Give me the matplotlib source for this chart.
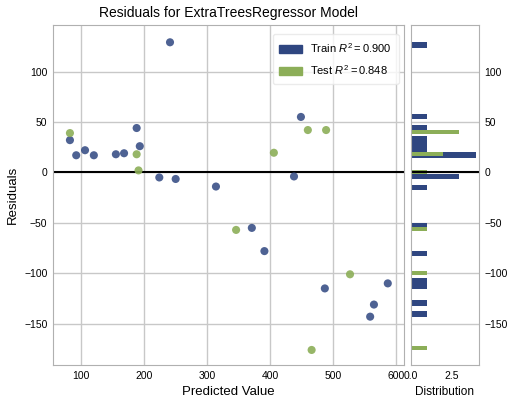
import matplotlib
matplotlib.use("Agg")
import matplotlib.pyplot as plt
import matplotlib.patches as mpatches
import numpy as np

# ---- Data ------------------------------------------------------------
train_pred = [241, 82, 92, 106, 120, 155, 168, 188, 193, 224, 250, 314,
              449, 438, 371, 391, 487, 587, 565, 559]
train_resid = [129, 32, 17, 22, 17, 18, 19, 44, 26, -5, -6.5, -14,
               55, -4, -55, -78, -115, -110, -131, -143]
test_pred = [82, 188, 191, 406, 460, 489, 346, 527, 466]
test_resid = [39, 18, 2, 19.5, 42, 42, -57, -101, -176]

train_r2 = 0.900
test_r2 = 0.848

# ---- Style -----------------------------------------------------------
TRAIN_C = "#2f4680"
TEST_C = "#8cae58"
GRID = "#c8c8c8"
SPINE = "#b0b0b0"

plt.rcParams.update({
    "font.family": ["Liberation Sans", "DejaVu Sans"],
    "font.size": 8,
    "xtick.labelsize": 7.5,
    "ytick.labelsize": 7.5,
    "axes.edgecolor": SPINE,
    "grid.color": GRID,
    "grid.linewidth": 1.0,
    "mathtext.fontset": "custom",
    "mathtext.it": "Liberation Sans:italic",
    "mathtext.rm": "Liberation Sans",
})

fig = plt.figure(figsize=(5.09, 3.99), dpi=100)
ax = fig.add_axes([0.104, 0.085, 0.69, 0.852])
hax = fig.add_axes([0.807, 0.085, 0.134, 0.852], sharey=ax)

ax.scatter(train_pred, train_resid, c=TRAIN_C, alpha=0.85, s=34, edgecolors="none", zorder=3)
ax.scatter(test_pred, test_resid, c=TEST_C, alpha=0.9, s=34, edgecolors="none", zorder=3)
ax.axhline(0, color="black", linewidth=1.5, zorder=2)
ax.set_xlim(55, 613)
ax.set_ylim(-191, 146)
ax.set_xticks([100, 200, 300, 400, 500, 600])
ax.set_yticks([-150, -100, -50, 0, 50, 100])
ax.grid(True)
ax.set_axisbelow(True)
ax.tick_params(length=0, pad=4)
ax.set_xlabel("Predicted Value", fontsize=9.5)
ax.set_ylabel("Residuals", fontsize=9.5)
ax.set_title("Residuals for ExtraTreesRegressor Model", fontsize=10)

handles = [
    mpatches.Patch(color=TRAIN_C, label=rf"Train $R^2 = {train_r2:.3f}$"),
    mpatches.Patch(color=TEST_C, label=rf"Test $R^2 = {test_r2:.3f}$"),
]
leg = ax.legend(handles=handles, loc="upper right", frameon=True, fontsize=8,
                handlelength=2.0, borderpad=0.6, labelspacing=0.8,
                bbox_to_anchor=(1.0, 0.99))
leg.get_frame().set_edgecolor("#e6e6e6")

hax.hist(train_resid, bins=50, orientation="horizontal", color=TRAIN_C)
hax.hist(test_resid, bins=50, orientation="horizontal", color=TEST_C)
hax.axhline(0, color="black", linewidth=1.5)
hax.grid(True, axis="y")
hax.set_axisbelow(True)
hax.set_xticks([0, 2.5])
hax.set_xticklabels(["0.0", "2.5"])
hax.yaxis.tick_right()
hax.tick_params(length=0, pad=4)
hax.tick_params(axis="y", labelleft=False, labelright=True)
hax.set_xlabel("Distribution", fontsize=8.5)

fig.savefig("out.png", dpi=100)
